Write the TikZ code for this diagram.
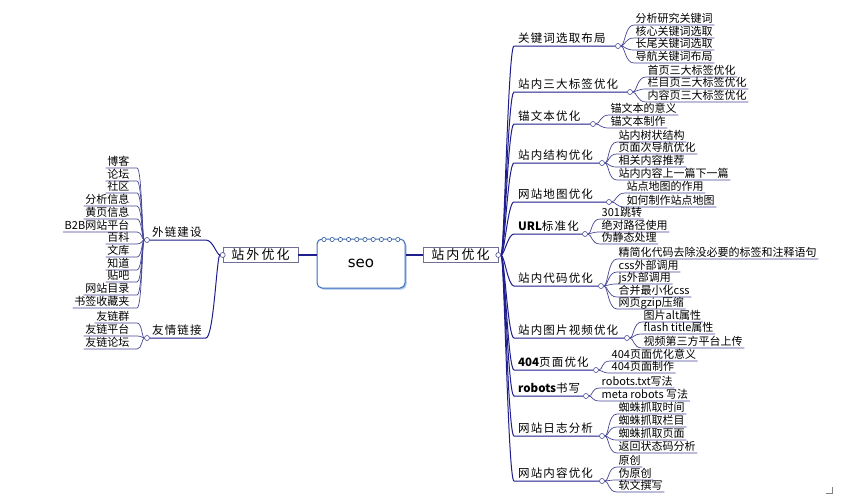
\documentclass[tikz,border=0pt]{standalone}
\usepackage{fontspec}
\setmainfont{Noto Sans CJK SC}
\newfontfamily\latinsans{DejaVu Sans}
\usetikzlibrary{backgrounds,calc,shadows}
\pgfdeclarelayer{paper}
\pgfsetlayers{paper,background,main}
\definecolor{ink}{RGB}{70,70,150}
\definecolor{trunk}{RGB}{30,30,140}
\definecolor{boxblue}{RGB}{60,110,190}
\definecolor{shadowblue}{RGB}{165,195,235}
\definecolor{mboxline}{RGB}{110,110,150}
\newcommand\latb[1]{\textbf{\addfontfeature{LetterSpace=0}#1}}
\newcommand\rone[4]{%
  \node[lone] (#1) at (514,#2) {#4};
  \node[dot] (#1c) at (#3,#2) {};
  \begin{pgfonlayer}{background}
  \draw[tr] (R) .. controls +(6,0) and +(-6,0) .. (#1.south west) -- (#1c);
  \end{pgfonlayer}}
\newcommand\rkid[5]{%
  \node[ltwo] (#2) at (#3,#4) {#5};
  \begin{pgfonlayer}{background}
  \draw[ln] (#1) .. controls +(7,0) and +(-9,0) .. (#2.south west) -- (#2.south east);
  \end{pgfonlayer}}
\newcommand\lkid[4]{%
  \node[ltwo,anchor=south east] (#2) at (131,#3) {#4};
  \begin{pgfonlayer}{background}
  \draw[ln] (#1) .. controls +(-5,0) and +(5,0) .. ($(#2.south east)+(6,0)$) -- (#2.south west);
  \end{pgfonlayer}}
\begin{document}
\begin{tikzpicture}[x=1pt,y=-1pt,
  lone/.style={font=\fontsize{11.5}{12}\selectfont\addfontfeature{LetterSpace=10}, inner xsep=4pt, inner ysep=0.8pt, text depth=0.22em, anchor=south west, text=black},
  ltwo/.style={font=\fontsize{11}{12}\selectfont, inner xsep=1.5pt, inner ysep=0.6pt, text depth=0.22em, anchor=south west, text=black},
  dot/.style={circle, draw=ink, fill=white, inner sep=0pt, minimum size=5pt, line width=0.6pt},
  ln/.style={draw=ink, line width=0.7pt},
  tr/.style={draw=trunk, line width=1pt},
  mbox/.style={draw=mboxline, line width=0.6pt, fill=white, font=\fontsize{13}{14}\selectfont\addfontfeature{LetterSpace=16}, minimum width=75pt, minimum height=15pt, inner sep=0pt},
  seobox/.style={draw=boxblue, line width=1pt, fill=white, rounded corners=5pt, minimum width=88pt, minimum height=49pt, font=\latinsans\fontsize{15}{16}\selectfont, drop shadow={shadow xshift=1.5pt, shadow yshift=-1.5pt, fill=shadowblue, opacity=1}},
  thick/.style={draw=trunk, line width=1.8pt}]
\useasboundingbox (0,0) rectangle (857,498);
\begin{pgfonlayer}{paper}
\fill[white] (0,0) rectangle (857,498);
\end{pgfonlayer}

% centre
\node[seobox] (seo) at (361,263.5) {seo};
\foreach \i in {0,...,9} \draw[boxblue!80!black, line width=0.6pt, fill=white] (324+8.2*\i,239.5) circle (2.1pt);
\node[mbox] (out) at (260.5,255) {站外优化};
\node[mbox] (in) at (460.5,255) {站内优化};
\draw[thick] (out.east) -- (out.east -| seo.west);
\draw[thick] (in.west) -- (in.west -| seo.east);
\node[dot] (R) at (in.east) {};
\node[dot] (L) at (out.west) {};

% left side
\node[lone] (wl) at (148,240) {外链建设};
\node[dot] (wlc) at (147,240) {};
\node[lone] (yq) at (148,338) {友情链接};
\node[dot] (yqc) at (147,338) {};
\begin{pgfonlayer}{background}
\draw[tr] (L) .. controls +(-6,0) and +(7,0) .. (wl.south east) -- (wlc);
\draw[tr] (L) .. controls +(-6,0) and +(8,0) .. (yq.south east) -- (yqc);
\end{pgfonlayer}
\lkid{wlc}{k1}{168}{博客}
\lkid{wlc}{k2}{181}{论坛}
\lkid{wlc}{k3}{193}{社区}
\lkid{wlc}{k4}{206}{分析信息}
\lkid{wlc}{k5}{219}{黄页信息}
\lkid{wlc}{k6}{232}{B2B网站平台}
\lkid{wlc}{k7}{244}{百科}
\lkid{wlc}{k8}{257}{文库}
\lkid{wlc}{k9}{270}{知道}
\lkid{wlc}{k10}{282}{贴吧}
\lkid{wlc}{k11}{295}{网站目录}
\lkid{wlc}{k12}{308}{书签收藏夹}
\lkid{yqc}{f1}{323}{友链群}
\lkid{yqc}{f2}{336}{友链平台}
\lkid{yqc}{f3}{349}{友链论坛}

% right side
\rone{ra}{46}{618}{关键词选取布局}
\rone{rb}{92}{630}{站内三大标签优化}
\rone{rc}{124}{593}{锚文本优化}
\rone{rd}{163}{602}{站内结构优化}
\rone{re}{202}{609}{网站地图优化}
\rone{rf}{234}{585}{\latb{URL}标准化}
\rone{rg}{286}{601}{站内代码优化}
\rone{rh}{338}{627}{站内图片视频优化}
\rone{ri}{370}{596}{\latb{404}页面优化}
\rone{rj}{396}{586}{\latb{robots}书写}
\rone{rk}{436}{602}{网站日志分析}
\rone{rl}{481}{602}{网站内容优化}

\rkid{rac}{a1}{634}{25}{分析研究关键词}
\rkid{rac}{a2}{634}{38}{核心关键词选取}
\rkid{rac}{a3}{634}{50}{长尾关键词选取}
\rkid{rac}{a4}{634}{63}{导航关键词布局}

\rkid{rbc}{b1}{646}{77}{首页三大标签优化}
\rkid{rbc}{b2}{646}{89}{栏目页三大标签优化}
\rkid{rbc}{b3}{646}{102}{内容页三大标签优化}

\rkid{rcc}{c1}{609}{115}{锚文本的意义}
\rkid{rcc}{c2}{609}{128}{锚文本制作}

\rkid{rdc}{d1}{617}{142}{站内树状结构}
\rkid{rdc}{d2}{617}{154}{页面次导航优化}
\rkid{rdc}{d3}{617}{167}{相关内容推荐}
\rkid{rdc}{d4}{617}{180}{站内内容上一篇下一篇}

\rkid{rec}{e1}{625}{193}{站点地图的作用}
\rkid{rec}{e2}{625}{207}{如何制作站点地图}

\rkid{rfc}{g1}{600}{219}{301跳转}
\rkid{rfc}{g2}{600}{232}{绝对路径使用}
\rkid{rfc}{g3}{600}{244}{伪静态处理}

\rkid{rgc}{h1}{617}{259}{精简化代码去除没必要的标签和注释语句}
\rkid{rgc}{h2}{617}{272}{css外部调用}
\rkid{rgc}{h3}{617}{284}{js外部调用}
\rkid{rgc}{h4}{617}{297}{合并最小化css}
\rkid{rgc}{h5}{617}{309}{网页gzip压缩}

\rkid{rhc}{i1}{642}{322}{图片alt属性}
\rkid{rhc}{i2}{642}{334}{flash title属性}
\rkid{rhc}{i3}{642}{348}{视频第三方平台上传}

\rkid{ric}{j1}{610}{361}{404页面优化意义}
\rkid{ric}{j2}{610}{373}{404页面制作}

\rkid{rjc}{m1}{600}{388}{robots.txt写法}
\rkid{rjc}{m2}{600}{401}{meta robots 写法}

\rkid{rkc}{n1}{617}{414}{蜘蛛抓取时间}
\rkid{rkc}{n2}{617}{427}{蜘蛛抓取栏目}
\rkid{rkc}{n3}{617}{440}{蜘蛛抓取页面}
\rkid{rkc}{n4}{617}{453}{返回状态码分析}

\rkid{rlc}{p1}{617}{467}{原创}
\rkid{rlc}{p2}{617}{480}{伪原创}
\rkid{rlc}{p3}{617}{492}{软文撰写}

% small return mark
\draw[gray, line width=0.6pt] (826,493) -- (832,493) -- (832,487);
\end{tikzpicture}
\end{document}
